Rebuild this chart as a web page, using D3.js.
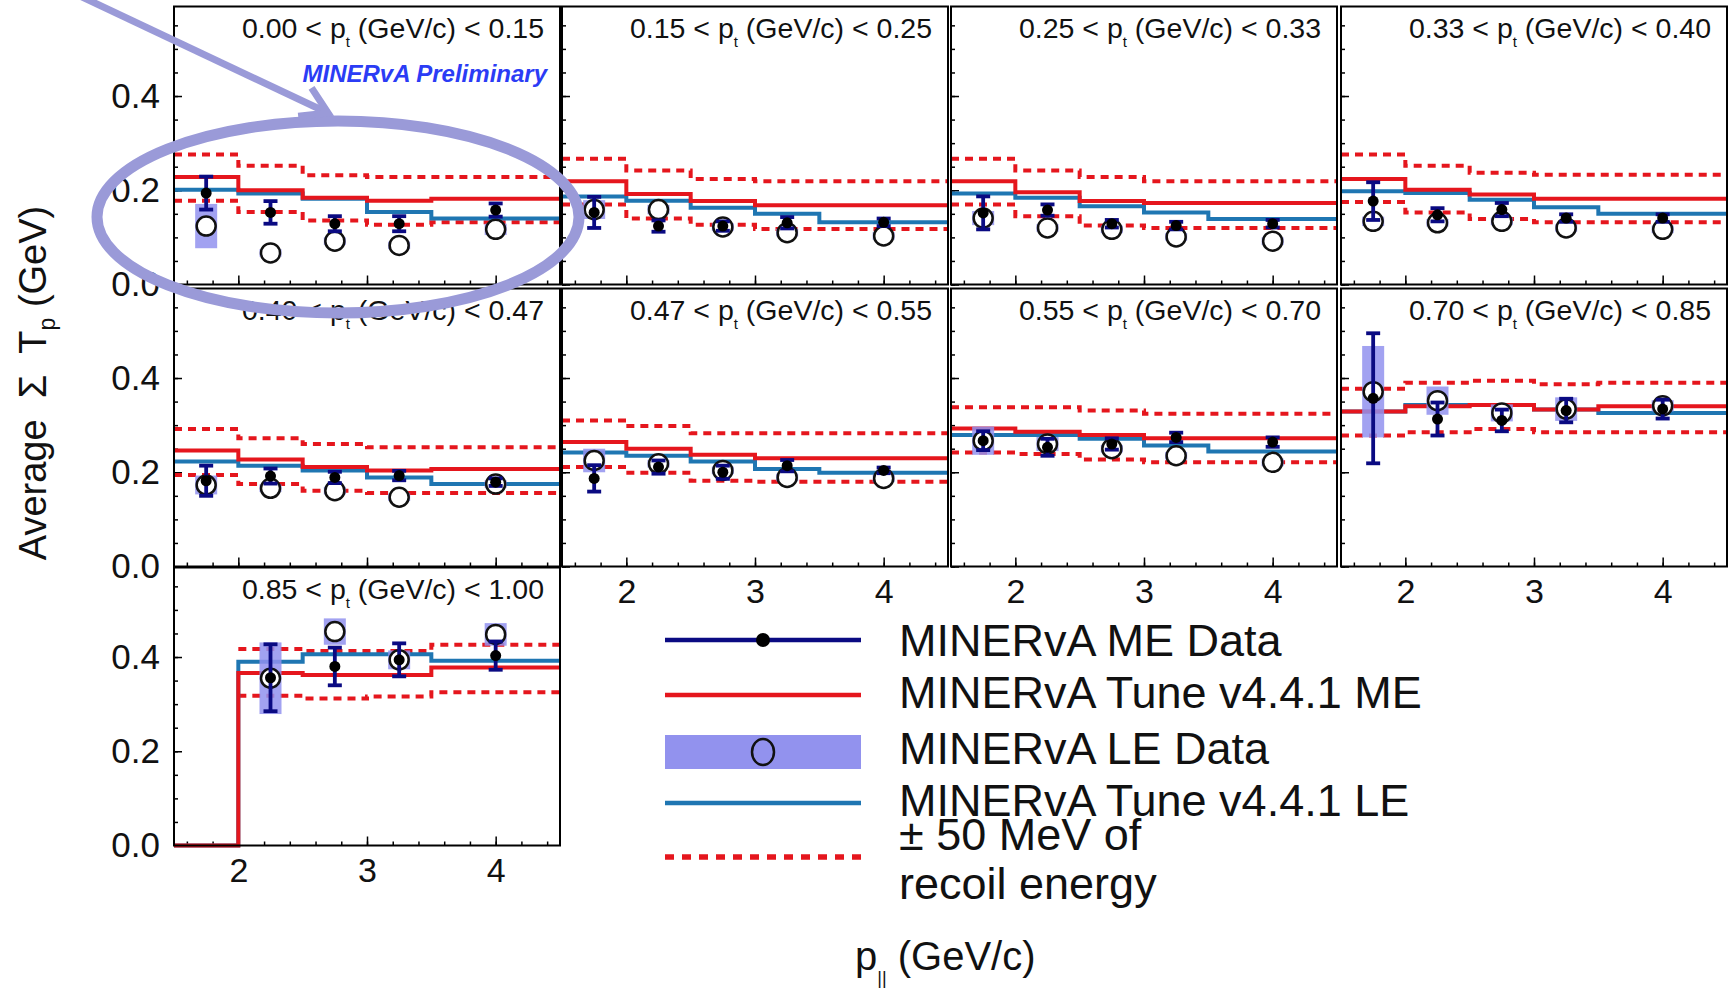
<!DOCTYPE html>
<html>
<head>
<meta charset="utf-8">
<script src="https://cdn.jsdelivr.net/npm/d3@7"></script>
<style>
  body { margin: 0; background: #fff; }
  svg { display: block; font-family: "Liberation Sans", Arial, Helvetica, sans-serif; }
</style>
</head>
<body>
<script>
// average sum of proton KE vs p_parallel, in 9 bins of p_t
var ptLow  = ["0.00", "0.15", "0.25", "0.33", "0.40", "0.47", "0.55", "0.70", "0.85"];
var ptHigh = ["0.15", "0.25", "0.33", "0.40", "0.47", "0.55", "0.70", "0.85", "1.00"];

var binEdges = [1.5, 2, 2.5, 3, 3.5, 4.5];
var binCenters = [1.75, 2.25, 2.75, 3.25, 4.0];
var xTicks = [2, 3, 4];
var yTicks = [0, 0.2, 0.4];

// MINERvA Tune v4.4.1 ME (red)
var tuneME = [
  [0.228, 0.200, 0.184, 0.178, 0.182],
  [0.219, 0.192, 0.177, 0.168, 0.168],
  [0.219, 0.196, 0.177, 0.173, 0.173],
  [0.224, 0.201, 0.191, 0.182, 0.182],
  [0.246, 0.227, 0.211, 0.204, 0.207],
  [0.264, 0.250, 0.237, 0.230, 0.230],
  [0.293, 0.286, 0.279, 0.272, 0.272],
  [0.329, 0.340, 0.343, 0.333, 0.340],
  [0.000, 0.366, 0.362, 0.362, 0.378]
];
// MINERvA Tune v4.4.1 LE (blue)
var tuneLE = [
  [0.201, 0.193, 0.182, 0.154, 0.140],
  [0.187, 0.178, 0.163, 0.150, 0.132],
  [0.193, 0.184, 0.166, 0.153, 0.139],
  [0.198, 0.194, 0.180, 0.164, 0.150],
  [0.223, 0.214, 0.204, 0.189, 0.175],
  [0.242, 0.235, 0.223, 0.207, 0.199],
  [0.279, 0.279, 0.271, 0.257, 0.244],
  [0.329, 0.343, 0.343, 0.333, 0.326],
  [0.000, 0.390, 0.406, 0.406, 0.392]
];
// +/- 50 MeV recoil energy
var bandUp = [
  [0.276, 0.252, 0.232, 0.228, 0.228],
  [0.267, 0.242, 0.224, 0.219, 0.219],
  [0.267, 0.242, 0.228, 0.219, 0.219],
  [0.276, 0.252, 0.237, 0.233, 0.233],
  [0.292, 0.272, 0.260, 0.253, 0.253],
  [0.310, 0.298, 0.283, 0.283, 0.283],
  [0.338, 0.338, 0.331, 0.324, 0.324],
  [0.377, 0.390, 0.394, 0.387, 0.390],
  [null, 0.417, 0.413, 0.413, 0.426]
];
var bandLow = [
  [0.178, 0.154, 0.136, 0.127, 0.132],
  [0.170, 0.140, 0.127, 0.118, 0.118],
  [0.170, 0.145, 0.125, 0.120, 0.120],
  [0.175, 0.153, 0.139, 0.132, 0.132],
  [0.194, 0.175, 0.161, 0.156, 0.156],
  [0.211, 0.199, 0.182, 0.180, 0.180],
  [0.242, 0.239, 0.227, 0.221, 0.221],
  [0.278, 0.285, 0.292, 0.285, 0.285],
  [null, 0.318, 0.312, 0.316, 0.325]
];
// MINERvA ME data
var meVal = [
  [0.194, 0.153, 0.129, 0.129, 0.158],
  [0.153, 0.124, 0.124, 0.131, 0.132],
  [0.152, 0.158, 0.129, 0.125, 0.129],
  [0.177, 0.148, 0.159, 0.141, 0.141],
  [0.182, 0.192, 0.189, 0.193, 0.179],
  [0.187, 0.211, 0.200, 0.214, 0.204],
  [0.267, 0.253, 0.260, 0.274, 0.264],
  [0.357, 0.313, 0.310, 0.331, 0.334],
  [null, 0.356, 0.380, 0.394, 0.403]
];
var meErr = [
  [0.035, 0.024, 0.016, 0.016, 0.014],
  [0.033, 0.012, 0.010, 0.012, 0.008],
  [0.035, 0.012, 0.008, 0.008, 0.008],
  [0.040, 0.014, 0.014, 0.008, 0.008],
  [0.032, 0.016, 0.012, 0.010, 0.008],
  [0.028, 0.014, 0.014, 0.012, 0.006],
  [0.020, 0.018, 0.012, 0.010, 0.010],
  [0.138, 0.035, 0.023, 0.025, 0.020],
  [null, 0.071, 0.040, 0.035, 0.030]
];
// MINERvA LE data
var leVal = [
  [0.124, 0.067, 0.092, 0.083, 0.117],
  [0.159, 0.159, 0.122, 0.110, 0.103],
  [0.141, 0.120, 0.117, 0.101, 0.092],
  [0.134, 0.131, 0.134, 0.120, 0.117],
  [0.173, 0.166, 0.161, 0.147, 0.175],
  [0.225, 0.218, 0.204, 0.189, 0.187],
  [0.267, 0.260, 0.250, 0.235, 0.221],
  [0.371, 0.352, 0.326, 0.334, 0.341],
  [null, 0.355, 0.454, 0.394, 0.448]
];
var leErr = [
  [0.047, 0.008, 0.008, 0.008, 0.012],
  [0.020, 0.010, 0.008, 0.008, 0.008],
  [0.015, 0.008, 0.008, 0.008, 0.008],
  [0.010, 0.008, 0.008, 0.008, 0.008],
  [0.020, 0.008, 0.008, 0.008, 0.008],
  [0.025, 0.008, 0.008, 0.008, 0.008],
  [0.030, 0.015, 0.008, 0.008, 0.008],
  [0.097, 0.030, 0.018, 0.025, 0.012],
  [null, 0.076, 0.028, 0.020, 0.024]
];

var legendLabels = ["MINERvA ME Data", "MINERvA Tune v4.4.1 ME", "MINERvA LE Data", "MINERvA Tune v4.4.1 LE"];

var width = 1730, height = 988;
var W = 386, H = 278;
var colLeft = [174, 562, 951, 1341];
var rowTop = [6.5, 288.5, 567.5];

var red = "#e5161d", blue = "#1f76b2", navy = "#0a0a82", boxFill = "#9292ee";

var svg = d3.select("body").append("svg")
  .attr("width", width)
  .attr("height", height);

var x = d3.scaleLinear().domain([1.5, 4.5]).range([0, W]);
var y = d3.scaleLinear().domain([0, 0.59]).range([H, 0]);

var step = d3.line()
  .defined(function(d) { return d[1] != null; })
  .x(function(d) { return x(d[0]); })
  .y(function(d) { return y(d[1]); })
  .curve(d3.curveStepAfter);

function histo(vals) {
  return binEdges.map(function(e, i) {
    return [e, vals[Math.min(i, vals.length - 1)]];
  });
}

// which panels show their x labels (nothing drawn below them)
var showX = [false, false, false, false, false, true, true, true, true];

for (var p = 0; p < 9; p++) {
  var row = Math.floor(p / 4), col = p % 4;
  var g = svg.append("g")
    .attr("transform", "translate(" + colLeft[col] + "," + rowTop[row] + ")");

  g.append("rect")
    .attr("width", W).attr("height", H)
    .attr("fill", "#fff");

  // ticks
  g.append("g")
    .call(d3.axisLeft(y).tickValues(d3.range(0, 0.5901, 0.05)).tickSize(-4).tickFormat(""))
    .call(function(a) { a.select(".domain").remove(); a.selectAll("line").attr("stroke-width", 1.5); });
  var ya = g.append("g")
    .call(d3.axisLeft(y).tickValues(yTicks).tickSize(-8).tickPadding(14).tickFormat(d3.format(".1f")))
    .call(function(a) { a.select(".domain").remove(); a.selectAll("line").attr("stroke-width", 1.5); });
  ya.selectAll("text").attr("font-size", 35).attr("font-family", null).attr("fill", "#111");
  if (col != 0) ya.selectAll("text").remove();

  g.append("g")
    .attr("transform", "translate(0," + H + ")")
    .call(d3.axisBottom(x).tickValues(d3.range(1.6, 4.45, 0.2)).tickSize(-4).tickFormat(""))
    .call(function(a) { a.select(".domain").remove(); a.selectAll("line").attr("stroke-width", 1.5); });
  var xa = g.append("g")
    .attr("transform", "translate(0," + H + ")")
    .call(d3.axisBottom(x).tickValues(xTicks).tickSize(-9).tickPadding(12).tickFormat(d3.format("d")))
    .call(function(a) { a.select(".domain").remove(); a.selectAll("line").attr("stroke-width", 1.5); });
  xa.selectAll("text").attr("font-size", 34).attr("font-family", null).attr("fill", "#111");
  if (!showX[p]) xa.selectAll("text").remove();

  // +-50 MeV bands
  [bandUp[p], bandLow[p]].forEach(function(b) {
    g.append("path")
      .attr("d", step(histo(b)))
      .attr("fill", "none")
      .attr("stroke", red)
      .attr("stroke-width", 4)
      .attr("stroke-dasharray", "8,6");
  });

  g.append("path")
    .attr("d", step(histo(tuneLE[p])))
    .attr("fill", "none")
    .attr("stroke", blue)
    .attr("stroke-width", 4);

  g.append("path")
    .attr("d", step(histo(tuneME[p])))
    .attr("fill", "none")
    .attr("stroke", red)
    .attr("stroke-width", 4);

  // LE data
  var le = binCenters.map(function(c, i) { return { x: c, v: leVal[p][i], e: leErr[p][i] }; })
    .filter(function(d) { return d.v != null; });
  g.selectAll("rect.le").data(le).enter().append("rect")
    .attr("class", "le")
    .attr("x", function(d) { return x(d.x) - 11; })
    .attr("width", 22)
    .attr("y", function(d) { return y(d.v + d.e); })
    .attr("height", function(d) { return y(d.v - d.e) - y(d.v + d.e); })
    .attr("fill", boxFill)
    .attr("opacity", 0.85);
  g.selectAll("circle.le").data(le).enter().append("circle")
    .attr("class", "le")
    .attr("cx", function(d) { return x(d.x); })
    .attr("cy", function(d) { return y(d.v); })
    .attr("r", 9.5)
    .attr("fill", "#fff")
    .attr("stroke", "#111")
    .attr("stroke-width", 2.5);

  // ME data
  var me = binCenters.map(function(c, i) { return { x: c, v: meVal[p][i], e: meErr[p][i] }; })
    .filter(function(d) { return d.v != null; });
  var eb = g.selectAll("g.me").data(me).enter().append("g").attr("class", "me")
    .attr("stroke", navy).attr("stroke-width", 3.8);
  eb.append("line")
    .attr("x1", function(d) { return x(d.x); })
    .attr("x2", function(d) { return x(d.x); })
    .attr("y1", function(d) { return y(d.v - d.e); })
    .attr("y2", function(d) { return y(d.v + d.e); });
  eb.append("line")
    .attr("x1", function(d) { return x(d.x) - 7; })
    .attr("x2", function(d) { return x(d.x) + 7; })
    .attr("y1", function(d) { return y(d.v - d.e); })
    .attr("y2", function(d) { return y(d.v - d.e); });
  eb.append("line")
    .attr("x1", function(d) { return x(d.x) - 7; })
    .attr("x2", function(d) { return x(d.x) + 7; })
    .attr("y1", function(d) { return y(d.v + d.e); })
    .attr("y2", function(d) { return y(d.v + d.e); });
  g.selectAll("circle.me").data(me).enter().append("circle")
    .attr("class", "me")
    .attr("cx", function(d) { return x(d.x); })
    .attr("cy", function(d) { return y(d.v); })
    .attr("r", 5.5)
    .attr("fill", "#000");

  // panel title
  var t = g.append("text")
    .attr("x", W - 16)
    .attr("y", 31)
    .attr("text-anchor", "end")
    .attr("font-size", 28.5)
    .attr("fill", "#111");
  t.append("tspan").text(ptLow[p] + " < p");
  t.append("tspan").attr("font-size", 15).attr("dy", 9).text("t");
  t.append("tspan").attr("dy", -9).text(" (GeV/c) < " + ptHigh[p]);

  g.append("rect")
    .attr("width", W).attr("height", H)
    .attr("fill", "none")
    .attr("stroke", "#000")
    .attr("stroke-width", 2);

  if (p == 0) {
    g.append("text")
      .attr("x", W - 13)
      .attr("y", 75)
      .attr("text-anchor", "end")
      .attr("font-size", 24)
      .attr("font-weight", "bold")
      .attr("font-style", "italic")
      .attr("fill", "#2b3cf5")
      .text("MINERvA Preliminary");
  }
}

// axis titles
var yt = svg.append("text")
  .attr("transform", "translate(46,383) rotate(-90)")
  .attr("text-anchor", "middle")
  .attr("font-size", 38)
  .attr("fill", "#111")
  .attr("xml:space", "preserve");
yt.append("tspan").text("Average  \u03a3  T");
yt.append("tspan").attr("font-size", 23).attr("dy", 9).text("p");
yt.append("tspan").attr("dy", -9).text(" (GeV)");

var xt = svg.append("text")
  .attr("x", 855)
  .attr("y", 970)
  .attr("font-size", 40)
  .attr("fill", "#111");
xt.append("tspan").text("p");
xt.append("tspan").attr("font-size", 18).attr("dy", 14).text("||");
xt.append("tspan").attr("dy", -14).text(" (GeV/c)");

// legend
var legX1 = 665, legX2 = 861, legText = 899;
var legY = [640, 695, 752, 803, 857];
var lg = svg.append("g");

lg.append("line").attr("x1", legX1).attr("x2", legX2).attr("y1", legY[0]).attr("y2", legY[0])
  .attr("stroke", navy).attr("stroke-width", 4.5);
lg.append("circle").attr("cx", (legX1 + legX2) / 2).attr("cy", legY[0]).attr("r", 7).attr("fill", "#000");

lg.append("line").attr("x1", legX1).attr("x2", legX2).attr("y1", legY[1]).attr("y2", legY[1])
  .attr("stroke", red).attr("stroke-width", 4.5);

lg.append("rect").attr("x", legX1).attr("width", legX2 - legX1).attr("y", legY[2] - 17).attr("height", 34)
  .attr("fill", boxFill);
lg.append("ellipse").attr("cx", (legX1 + legX2) / 2).attr("cy", legY[2]).attr("rx", 11).attr("ry", 13)
  .attr("fill", "none").attr("stroke", "#111").attr("stroke-width", 2.5);

lg.append("line").attr("x1", legX1).attr("x2", legX2).attr("y1", legY[3]).attr("y2", legY[3])
  .attr("stroke", blue).attr("stroke-width", 4.5);

lg.append("line").attr("x1", legX1).attr("x2", legX2).attr("y1", legY[4]).attr("y2", legY[4])
  .attr("stroke", red).attr("stroke-width", 5.5).attr("stroke-dasharray", "9,8");

var legBase = [656, 708, 764, 816];
lg.selectAll("text.leg").data(legendLabels).enter().append("text")
  .attr("class", "leg")
  .attr("x", legText)
  .attr("y", function(d, i) { return legBase[i]; })
  .attr("font-size", 45)
  .attr("fill", "#111")
  .text(function(d) { return d; });
lg.append("text").attr("x", legText).attr("y", 850).attr("font-size", 45).attr("fill", "#111").text("\u00b1 50 MeV of");
lg.append("text").attr("x", legText).attr("y", 899).attr("font-size", 45).attr("fill", "#111").text("recoil energy");

// hand-drawn annotation on top
svg.append("ellipse")
  .attr("cx", 338).attr("cy", 217)
  .attr("rx", 241).attr("ry", 96)
  .attr("fill", "none")
  .attr("stroke", "#9a9ad8")
  .attr("stroke-width", 11);

var tip = [328, 113], ang = Math.atan2(115, 244);
svg.append("line")
  .attr("x1", 80).attr("y1", -4)
  .attr("x2", tip[0]).attr("y2", tip[1])
  .attr("stroke", "#9a9ad8").attr("stroke-width", 7);
svg.append("path")
  .attr("d", d3.line()([
    [tip[0] - 30 * Math.cos(ang - 0.55), tip[1] - 30 * Math.sin(ang - 0.55)],
    tip,
    [tip[0] - 30 * Math.cos(ang + 0.55), tip[1] - 30 * Math.sin(ang + 0.55)]
  ]))
  .attr("fill", "none")
  .attr("stroke", "#9a9ad8")
  .attr("stroke-width", 7)
  .attr("stroke-linejoin", "miter");
</script>
</body>
</html>
